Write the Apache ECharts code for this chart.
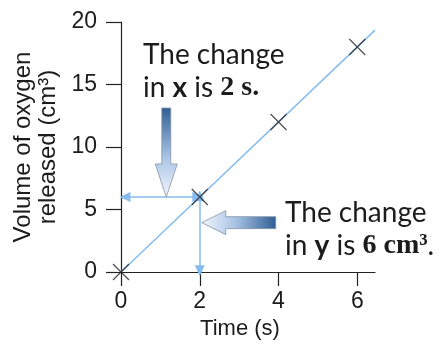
<!DOCTYPE html>
<html>
<head>
<meta charset="utf-8">
<script src="https://cdn.jsdelivr.net/npm/echarts@6/dist/echarts.min.js"></script>
<style>
	html,body{margin:0;padding:0;background:#fff;}
	#main{width:448px;height:345px;}
</style>
</head>
<body>
<div id="main"></div>
<script>
	// measured points (time in s, volume in cm3)
	const timeVals = [0, 2, 4, 6];
	const volumeVals = [0, 6, 12, 18];
	// line of best fit, end points
	const fitX = [0, 6.45];
	const fitY = [0, 19.35];
	const changeX = [0, 2];
	const changeY = [0, 6];
	const xTicks = [0, 2, 4, 6];

	const blue = '#86bcee';
	const ink = '#1c1c1c';

	let chart = echarts.init(document.getElementById('main'));

	let option = {
		animation: false,
		grid: { left: 121, right: 73, top: 22, bottom: 72 },
		xAxis: {
			type: 'value',
			min: 0,
			max: 6.45,
			interval: 2,
			name: 'Time (s)',
			nameLocation: 'middle',
			nameGap: 46,
			nameTextStyle: { fontFamily: 'Liberation Sans', fontSize: 22, color: ink, padding: [0, 16, 0, 0] },
			splitLine: { show: false },
			axisLine: { onZero: false, lineStyle: { color: '#222', width: 1.2 } },
			axisTick: { length: 14, customValues: xTicks, lineStyle: { color: '#222', width: 1.2 } },
			axisLabel: { customValues: xTicks, margin: 18, fontFamily: 'Liberation Sans', fontSize: 23, color: ink }
		},
		yAxis: {
			type: 'value',
			min: 0,
			max: 20,
			interval: 5,
			name: 'Volume of oxygen\nreleased (cm³)',
			nameLocation: 'middle',
			nameGap: 60,
			nameTextStyle: { fontFamily: 'Liberation Sans', fontSize: 24, color: ink, lineHeight: 25 },
			splitLine: { show: false },
			axisLine: { show: true, onZero: false, lineStyle: { color: '#222', width: 1.2 } },
			axisTick: { show: true, length: 15, lineStyle: { color: '#222', width: 1.2 } },
			axisLabel: { margin: 24, fontFamily: 'Liberation Sans', fontSize: 23, color: ink }
		},
		series: [
			{
				name: 'fit',
				type: 'line',
				data: fitX.map((x, i) => [x, fitY[i]]),
				showSymbol: false,
				silent: true,
				lineStyle: { color: blue, width: 1.5 },
				markLine: {
					silent: true,
					symbol: ['triangle', 'triangle'],
					symbolSize: [10, 11],
					label: { show: false },
					lineStyle: { color: blue, width: 1.5, type: 'solid' },
					data: [
						[{ coord: [changeX[0] + 0.1, changeY[1]] }, { coord: [changeX[1] - 0.05, changeY[1]] }],
						[{ coord: [changeX[1], changeY[1] + 0.1] }, { coord: [changeX[1], changeY[0] + 0.1] }]
					]
				}
			},
			{
				name: 'points',
				type: 'scatter',
				data: timeVals.map((t, i) => [t, volumeVals[i]]),
				symbol: 'path://M0,0L10,10M10,0L0,10',
				symbolSize: 16,
				itemStyle: { color: 'transparent', borderColor: '#222', borderWidth: 1.2 },
				z: 5
			}
		]
	};
	chart.setOption(option);

	// big shaded arrows, anchored to data positions
	function arrowDown(tip, len, sw, hw, hl) {
		let tx = tip[0], ty = tip[1];
		return [[tx - sw, ty - len], [tx + sw, ty - len], [tx + sw, ty - hl], [tx + hw, ty - hl],
			[tx, ty], [tx - hw, ty - hl], [tx - sw, ty - hl]];
	}
	function arrowLeft(tip, len, sw, hw, hl) {
		let tx = tip[0], ty = tip[1];
		return [[tx + len, ty - sw], [tx + len, ty + sw], [tx + hl, ty + sw], [tx + hl, ty + hw],
			[tx, ty], [tx + hl, ty - hw], [tx + hl, ty - sw]];
	}
	let downTip = chart.convertToPixel({ gridIndex: 0 }, [1.15, 6.0]);
	let leftTip = chart.convertToPixel({ gridIndex: 0 }, [2.05, 3.95]);

	chart.setOption({
		graphic: [
			{
				type: 'polygon',
				shape: { points: arrowDown(downTip, 89, 4.5, 11, 33) },
				style: {
					fill: new echarts.graphic.LinearGradient(0, 0, 0, 1, [
						{ offset: 0, color: '#2f5e94' },
						{ offset: 0.55, color: '#a9c4e5' },
						{ offset: 1, color: '#f2f6fc' }
					]),
					stroke: '#8794a6',
					lineWidth: 0.8
				},
				z: 10
			},
			{
				type: 'polygon',
				shape: { points: arrowLeft(leftTip, 74, 6, 12, 24) },
				style: {
					fill: new echarts.graphic.LinearGradient(0, 0, 1, 0, [
						{ offset: 0, color: '#f2f6fc' },
						{ offset: 0.45, color: '#a9c4e5' },
						{ offset: 1, color: '#2f5e94' }
					]),
					stroke: '#8794a6',
					lineWidth: 0.8
				},
				z: 10
			},
			{
				type: 'text',
				left: 143,
				top: 38,
				z: 20,
				style: {
					text: 'The change\nin {b|x} is {s|2 s.}',
					fontFamily: 'Lato',
					fontSize: 28,
					lineHeight: 33,
					fill: ink,
					rich: {
						b: { fontFamily: 'Lato', fontWeight: 'bold', fontSize: 28, lineHeight: 33 },
						s: { fontFamily: 'Liberation Serif', fontWeight: 'bold', fontSize: 28, lineHeight: 33 }
					}
				}
			},
			{
				type: 'text',
				left: 285,
				top: 196,
				z: 20,
				style: {
					text: 'The change\nin {b|y} is {s|6 cm³}.',
					fontFamily: 'Lato',
					fontSize: 28,
					lineHeight: 33,
					fill: ink,
					rich: {
						b: { fontFamily: 'Lato', fontWeight: 'bold', fontSize: 28, lineHeight: 33 },
						s: { fontFamily: 'Liberation Serif', fontWeight: 'bold', fontSize: 28, lineHeight: 33 }
					}
				}
			}
		]
	});
</script>
</body>
</html>
